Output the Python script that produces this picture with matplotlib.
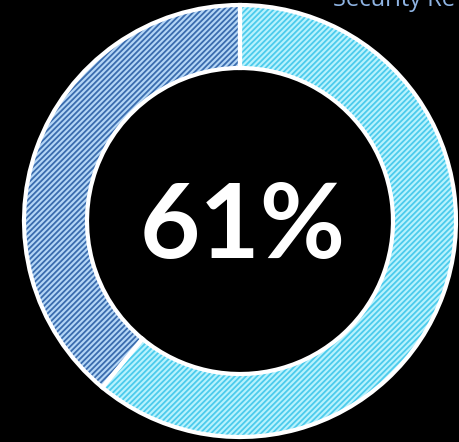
import matplotlib
matplotlib.use("Agg")
import matplotlib.pyplot as plt

labels = ["Yes", "No"]
values = [61, 39]
center_label = "61%"
title = "Security Re"

face_colors = ["#b8f2fd", "#b4d6f6"]
hatch_colors = ["#4ccbec", "#3a6cae"]

plt.rcParams["hatch.linewidth"] = 1.3

fig = plt.figure(figsize=(4.59, 4.42), dpi=100, facecolor="black")
ax = fig.add_axes([0, 0, 1, 1])
ax.set_facecolor("black")

cx, cy, r, w = 240, 221, 216, 63

# base fill
ax.pie(values, startangle=90, counterclock=False, center=(cx, cy), radius=r,
       colors=face_colors, wedgeprops=dict(width=w, linewidth=0), frame=True)
# hatch overlay
wedges, _ = ax.pie(values, startangle=90, counterclock=False, center=(cx, cy), radius=r,
                   colors=face_colors, wedgeprops=dict(width=w, linewidth=0), frame=True)
for wdg, hc in zip(wedges, hatch_colors):
    wdg.set_facecolor("none")
    wdg.set_edgecolor(hc)
    wdg.set_hatch("//////")
# white borders
ax.pie(values, startangle=90, counterclock=False, center=(cx, cy), radius=r,
       colors=["none", "none"], wedgeprops=dict(width=w, linewidth=3, edgecolor="white"),
       frame=True)
ax.set_xlim(0, 459)
ax.set_ylim(0, 442)
ax.set_aspect("equal")
ax.axis("off")

ax.text(243, 214, center_label, color="white", fontsize=75, fontweight="bold",
        family="Lato", ha="center", va="center")
fig.text(0.725, 1.0, title, color="#8fb4e3", fontsize=17, family="Open Sans",
         ha="left", va="center")

fig.savefig("out.png", dpi=100, facecolor="black")
